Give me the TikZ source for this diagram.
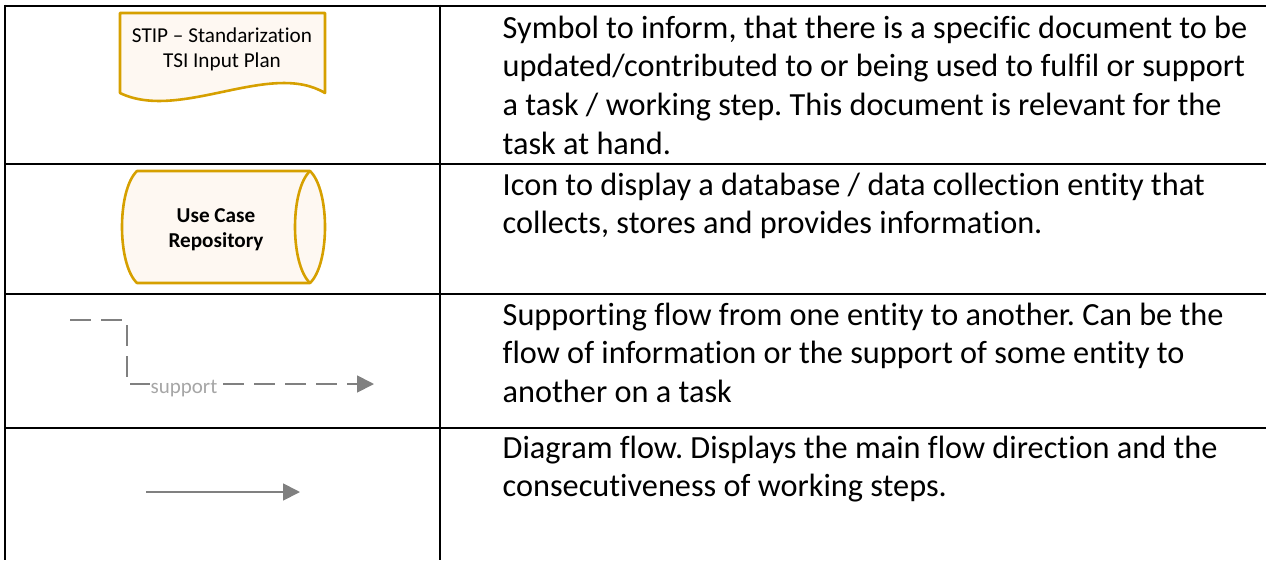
\documentclass[tikz,border=0pt]{standalone}
\usepackage{fontspec}
\setmainfont[Ligatures={NoCommon}]{Carlito}
\usetikzlibrary{arrows.meta}
\definecolor{docgold}{RGB}{214,160,0}
\definecolor{docfill}{RGB}{254,248,242}
\definecolor{flowgray}{RGB}{128,128,128}
\definecolor{labelgray}{RGB}{166,166,166}
\frenchspacing

\begin{document}
\begin{tikzpicture}[x=1pt,y=-1pt,
  grid/.style={line width=2.7pt,black},
  symbolshape/.style={draw=docgold,fill=docfill,line width=2.6pt,line join=round},
  desc/.style={anchor=base west,inner sep=0pt,font=\fontsize{32.3}{39}\selectfont},
  symtext/.style={anchor=base,inner sep=0pt,font=\fontsize{21.2}{25}\selectfont},
  flowline/.style={draw=flowgray,line width=1.8pt},
  supportline/.style={flowline,dash pattern=on 21pt off 10pt},
  flowtip/.style={-{Triangle[length=17pt,width=17pt]}}
]
\useasboundingbox (0,0) rectangle (1266,560);

% table rules
\draw[grid] (5,6) -- (1266,6);
\draw[grid] (5,164) -- (1266,164);
\draw[grid] (5,294) -- (1266,294);
\draw[grid] (5,428) -- (1266,428);
\draw[grid] (5,4.65) -- (5,560);
\draw[grid] (440,4.65) -- (440,560);

% document symbol
\draw[symbolshape] (120,13) -- (325,13) -- (325,93)
  .. controls (270,60) and (180,122) .. (120,93) -- cycle;
\node[symtext] (docA) at (222,42) {STIP – Standarization};
\node[symtext] (docB) at (222,67) {TSI Input Plan};

% database symbol
\draw[symbolshape] (137,171) -- (310,171)
  .. controls (330,190) and (330,264) .. (310,283) -- (137,283)
  .. controls (117,264) and (117,190) .. (137,171) -- cycle;
\draw[symbolshape,fill=none] (310,171) .. controls (290,190) and (290,264) .. (310,283);
\node[symtext,font=\bfseries\fontsize{21.2}{25}\selectfont] (dbA) at (216,222) {Use Case};
\node[symtext,font=\bfseries\fontsize{21.2}{25}\selectfont] (dbB) at (216,247) {Repository};

% supporting flow
\coordinate (sa) at (70,320);
\coordinate (sk) at (127,384);
\coordinate (sb) at (374,384);
\draw[supportline,flowtip] (sa) -| (sk) -- (sb);
\node[anchor=base,fill=white,inner sep=1pt,text=labelgray,font=\fontsize{21}{25}\selectfont] (slabel) at (184,393) {support};

% diagram flow
\coordinate (fa) at (146,492);
\coordinate (fb) at (300,492);
\draw[flowline,flowtip] (fa) -- (fb);

% descriptions
\node[desc] (r1a) at (502.5,38) {Symbol to inform, that there is a specific document to be};
\node[desc] (r1b) at (502.5,76.7) {updated/contributed to or being used to fulfil or support};
\node[desc] (r1c) at (502.5,115.4) {a task / working step. This document is relevant for the};
\node[desc] (r1d) at (502.5,154.1) {task at hand.};

\node[desc] (r2a) at (502.5,195) {Icon to display a database / data collection entity that};
\node[desc] (r2b) at (502.5,233.7) {collects, stores and provides information.};

\node[desc] (r3a) at (502.5,325) {Supporting flow from one entity to another. Can be the};
\node[desc] (r3b) at (502.5,363.7) {flow of information or the support of some entity to};
\node[desc] (r3c) at (502.5,402.4) {another on a task};

\node[desc] (r4a) at (502.5,458) {Diagram flow. Displays the main flow direction and the};
\node[desc] (r4b) at (502.5,496.7) {consecutiveness of working steps.};
\end{tikzpicture}
\end{document}
